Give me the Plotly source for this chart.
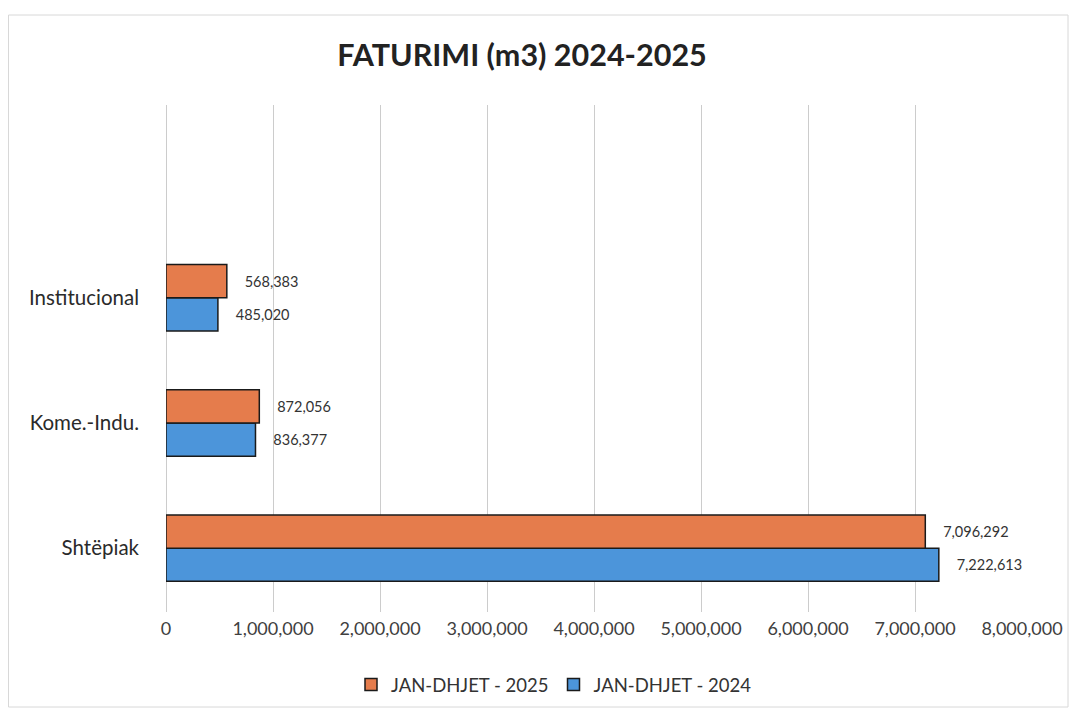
import plotly.graph_objects as go

categories = ["Shtëpiak", "Kome.-Indu.", "Institucional"]
values_2024 = [7222613, 836377, 485020]
values_2025 = [7096292, 872056, 568383]
series_names = ["JAN-DHJET - 2024", "JAN-DHJET - 2025"]
x_ticks = [0, 1000000, 2000000, 3000000, 4000000, 5000000, 6000000, 7000000, 8000000]
title_text = "FATURIMI (m3) 2024-2025"

FONT = "Lato, Carlito, 'Open Sans', sans-serif"
BLUE = "#4C95DA"
ORANGE = "#E57C4C"
PAD = "\u00a0" * 4

def fmt(v):
    return f"{v:,}"

fig = go.Figure()
fig.add_trace(go.Bar(
    y=categories, x=values_2024, name=series_names[0], orientation="h",
    marker=dict(color=BLUE, line=dict(color="#1a1a1a", width=1.5)),
    text=[PAD + fmt(v) for v in values_2024], textposition="outside",
    textfont=dict(family=FONT, size=14.5, color="#333333"), cliponaxis=False,
))
fig.add_trace(go.Bar(
    y=categories, x=values_2025, name=series_names[1], orientation="h",
    marker=dict(color=ORANGE, line=dict(color="#1a1a1a", width=1.5)),
    text=[PAD + fmt(v) for v in values_2025], textposition="outside",
    textfont=dict(family=FONT, size=14.5, color="#333333"), cliponaxis=False,
))

W, H = 1061, 700
L, R, T, B = 158, 47, 97, 96
PW, PH = W - L - R, H - T - B

fig.update_layout(
    width=W, height=H,
    paper_bgcolor="white", plot_bgcolor="white",
    margin=dict(l=L, r=R, t=T, b=B, autoexpand=False),
    barmode="group", bargap=0.47, bargroupgap=0,
    title=dict(text=f"<b>{title_text}</b>", x=514 / W, xanchor="center", xref="container",
               y=1 - 47 / H, yanchor="middle", yref="container",
               font=dict(family=FONT, size=30.5, color="#222222")),
    xaxis=dict(range=[0, 8000000], tickvals=x_ticks, ticktext=[fmt(v) for v in x_ticks],
               showgrid=True, gridcolor="#cccccc", gridwidth=1, zeroline=True,
               zerolinecolor="#cccccc", zerolinewidth=1, showline=False,
               ticks="", tickfont=dict(family=FONT, size=18, color="#404040"), ticklabelstandoff=4),
    yaxis=dict(range=[-0.51, 3.54], showgrid=False, zeroline=False, showline=False,
               ticks="", tickfont=dict(family=FONT, size=20.5, color="#2a2a2a"), ticklabelstandoff=26),
    legend=dict(orientation="h", x=(546 - L) / PW, xanchor="center", y=(604 - 677) / PH, yanchor="middle",
                traceorder="reversed", bgcolor="rgba(0,0,0,0)",
                font=dict(family=FONT, size=18.5, color="#333333")),
    showlegend=True,
)

fig.add_shape(type="rect", xref="paper", yref="paper",
              x0=(0.5 - L) / PW, x1=(1060 - L) / PW, y0=(604 - 699) / PH, y1=(604 - 7) / PH,
              line=dict(color="#d8d8d8", width=1), fillcolor="rgba(0,0,0,0)", layer="below")

fig.write_html("out.html")
